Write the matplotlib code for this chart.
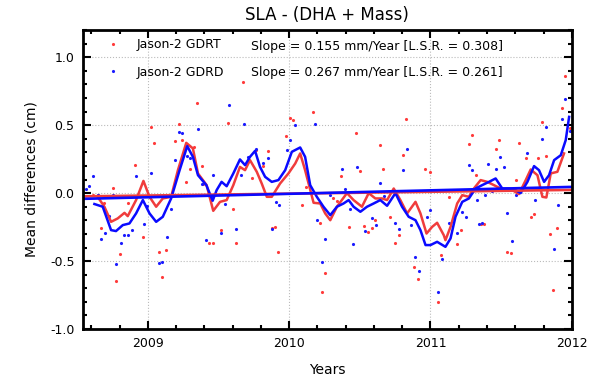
import matplotlib
matplotlib.use('Agg')
import matplotlib.pyplot as plt
from matplotlib.ticker import MultipleLocator
import numpy as np

# GDRT 散点 (年份, cm)
gdrt_t = [2008.610, 2008.645, 2008.669, 2008.693, 2008.752, 2008.775, 2008.806, 2008.858, 2008.912, 2008.969,
          2009.024, 2009.047, 2009.078, 2009.102, 2009.130, 2009.189, 2009.218, 2009.243, 2009.272, 2009.296,
          2009.324, 2009.350, 2009.390, 2009.381, 2009.435, 2009.463, 2009.515, 2009.570, 2009.600, 2009.624,
          2009.676, 2009.735, 2009.766, 2009.818, 2009.849, 2009.877, 2009.900, 2009.924, 2009.979, 2010.007,
          2010.030, 2010.090, 2010.120, 2010.172, 2010.220, 2010.231, 2010.255, 2010.310, 2010.338, 2010.367,
          2010.421, 2010.476, 2010.499, 2010.527, 2010.556, 2010.586, 2010.610, 2010.641, 2010.664, 2010.716,
          2010.752, 2010.775, 2010.804, 2010.829, 2010.881, 2010.912, 2010.964, 2010.995, 2011.052, 2011.076,
          2011.130, 2011.189, 2011.213, 2011.272, 2011.296, 2011.319, 2011.355, 2011.378, 2011.461, 2011.485,
          2011.544, 2011.572, 2011.603, 2011.627, 2011.679, 2011.709, 2011.733, 2011.764, 2011.792, 2011.816,
          2011.847, 2011.868, 2011.898, 2011.929, 2011.953, 2011.990]
gdrt_v = [-0.015, -0.015, -0.260, -0.076, 0.040, -0.645, -0.450, -0.070, 0.210, -0.320,
          0.490, 0.370, -0.430, -0.615, -0.420, 0.380, 0.505, 0.390, 0.083, 0.174,
          0.336, 0.660, 0.070, 0.199, -0.370, -0.365, -0.272, 0.517, -0.113, -0.365,
          0.820, 0.108, 0.316, 0.199, 0.311, -0.260, -0.247, -0.431, 0.419, 0.550,
          0.537, -0.088, 0.047, 0.598, -0.223, -0.725, -0.586, -0.039, -0.056, 0.125,
          -0.247, 0.439, 0.162, -0.243, -0.284, -0.260, -0.194, 0.353, 0.174, -0.179,
          -0.370, -0.309, 0.284, 0.542, -0.546, -0.635, 0.181, 0.157, -0.800, -0.456,
          -0.032, -0.375, -0.272, 0.358, 0.426, 0.132, -0.228, -0.228, 0.328, 0.390,
          -0.431, -0.439, 0.100, 0.370, 0.260, -0.179, -0.154, 0.255, 0.525, 0.272,
          -0.300, -0.713, -0.260, 0.623, 0.860, 0.476]

# GDRD 散点
gdrd_t = [2008.563, 2008.586, 2008.615, 2008.645, 2008.669, 2008.700, 2008.723, 2008.757, 2008.775, 2008.811,
          2008.835, 2008.863, 2008.889, 2008.917, 2008.972, 2008.995, 2009.024, 2009.078, 2009.102, 2009.135,
          2009.165, 2009.189, 2009.220, 2009.241, 2009.277, 2009.300, 2009.355, 2009.385, 2009.411, 2009.463,
          2009.518, 2009.546, 2009.575, 2009.624, 2009.657, 2009.681, 2009.712, 2009.766, 2009.818, 2009.853,
          2009.877, 2009.908, 2009.931, 2009.988, 2010.007, 2010.038, 2010.184, 2010.200, 2010.231, 2010.255,
          2010.286, 2010.373, 2010.397, 2010.428, 2010.449, 2010.480, 2010.534, 2010.586, 2010.615, 2010.645,
          2010.669, 2010.752, 2010.780, 2010.806, 2010.835, 2010.863, 2010.894, 2010.920, 2010.972, 2011.000,
          2011.052, 2011.083, 2011.130, 2011.189, 2011.220, 2011.248, 2011.272, 2011.296, 2011.326, 2011.343,
          2011.362, 2011.386, 2011.409, 2011.437, 2011.466, 2011.489, 2011.520, 2011.544, 2011.574, 2011.603,
          2011.686, 2011.740, 2011.792, 2011.816, 2011.875, 2011.905, 2011.934, 2011.953, 2011.986, 2011.998]
gdrd_v = [0.034, 0.050, 0.125, -0.015, -0.340, -0.296, -0.169, -0.015, -0.520, -0.370,
          -0.310, -0.310, -0.270, 0.125, -0.228, -0.095, 0.150, -0.517, -0.510, -0.320,
          -0.113, 0.242, 0.450, 0.440, 0.272, 0.262, 0.475, 0.066, -0.346, 0.132,
          -0.292, -0.081, 0.647, -0.267, 0.132, 0.507, 0.267, 0.328, 0.223, 0.255,
          -0.267, -0.064, -0.088, 0.321, 0.390, 0.500, 0.507, -0.194, -0.505, -0.338,
          -0.015, 0.174, 0.034, -0.120, -0.375, 0.194, -0.277, -0.186, -0.235, 0.076,
          -0.022, -0.216, -0.267, 0.169, 0.328, -0.235, -0.473, -0.571, -0.179, -0.125,
          -0.725, -0.488, -0.216, -0.292, -0.137, -0.174, 0.206, 0.169, -0.051, -0.230,
          -0.223, -0.015, 0.218, 0.015, 0.181, 0.267, 0.194, -0.145, -0.351, -0.015,
          0.292, -0.051, 0.395, 0.483, -0.414, -0.088, 0.542, 0.696, 0.458, 0.690]

# 平滑曲线
gdrt_smooth_t = [2008.645, 2008.693, 2008.740, 2008.787, 2008.835, 2008.858, 2008.917, 2008.969, 2009.012, 2009.059,
                 2009.106, 2009.165, 2009.213, 2009.272, 2009.319, 2009.355, 2009.416, 2009.463, 2009.511, 2009.558,
                 2009.605, 2009.652, 2009.688, 2009.723, 2009.771, 2009.806, 2009.842, 2009.877, 2009.936, 2009.995,
                 2010.043, 2010.078, 2010.113, 2010.173, 2010.220, 2010.255, 2010.291, 2010.338, 2010.409, 2010.456,
                 2010.515, 2010.563, 2010.610, 2010.657, 2010.693, 2010.740, 2010.787, 2010.835, 2010.894, 2010.929,
                 2010.972, 2011.012, 2011.047, 2011.094, 2011.106, 2011.142, 2011.189, 2011.225, 2011.272, 2011.307,
                 2011.355, 2011.402, 2011.449, 2011.496, 2011.544, 2011.579, 2011.626, 2011.674, 2011.709, 2011.757,
                 2011.792, 2011.820, 2011.851, 2011.898, 2011.945]
gdrt_smooth_v = [-0.027, -0.100, -0.211, -0.186, -0.145, -0.169, -0.051, 0.090, -0.027, -0.100,
                 -0.039, -0.027, 0.169, 0.370, 0.329, 0.145, 0.059, -0.130, -0.064, -0.051,
                 0.059, 0.193, 0.169, 0.243, 0.157, 0.071, -0.027, -0.027, 0.071, 0.145,
                 0.218, 0.292, 0.169, -0.071, -0.076, -0.149, -0.199, -0.100, 0.000, -0.051,
                 -0.100, 0.000, -0.039, -0.039, -0.051, 0.034, -0.051, -0.149, -0.064, -0.149,
                 -0.297, -0.248, -0.218, -0.309, -0.346, -0.248, -0.076, -0.015, -0.027, 0.034,
                 0.096, 0.083, 0.059, 0.034, 0.022, 0.022, -0.007, 0.096, 0.174, 0.132,
                 -0.027, -0.032, 0.145, 0.157, 0.292]

gdrd_smooth_t = [2008.622, 2008.681, 2008.740, 2008.775, 2008.823, 2008.870, 2008.917, 2008.965, 2009.012, 2009.059,
                 2009.106, 2009.165, 2009.225, 2009.279, 2009.319, 2009.355, 2009.414, 2009.459, 2009.487, 2009.522,
                 2009.558, 2009.605, 2009.652, 2009.688, 2009.723, 2009.759, 2009.794, 2009.830, 2009.877, 2009.924,
                 2009.972, 2010.019, 2010.078, 2010.113, 2010.149, 2010.196, 2010.243, 2010.291, 2010.338, 2010.385,
                 2010.421, 2010.456, 2010.504, 2010.551, 2010.598, 2010.645, 2010.693, 2010.752, 2010.799, 2010.846,
                 2010.894, 2010.929, 2010.965, 2011.000, 2011.047, 2011.106, 2011.142, 2011.177, 2011.225, 2011.272,
                 2011.319, 2011.366, 2011.414, 2011.461, 2011.508, 2011.555, 2011.603, 2011.638, 2011.686, 2011.733,
                 2011.768, 2011.804, 2011.839, 2011.875, 2011.922, 2011.957, 2011.981]
gdrd_smooth_v = [-0.080, -0.100, -0.272, -0.279, -0.235, -0.223, -0.149, -0.051, -0.149, -0.211,
                 -0.174, -0.039, 0.169, 0.346, 0.267, 0.132, 0.059, -0.056, 0.022, 0.083,
                 0.051, 0.145, 0.248, 0.206, 0.267, 0.311, 0.193, 0.120, 0.083, 0.096,
                 0.169, 0.304, 0.336, 0.267, 0.059, -0.027, -0.100, -0.162, -0.100, -0.076,
                 -0.051, -0.100, -0.137, -0.100, -0.076, -0.051, -0.093, 0.000, -0.100, -0.174,
                 -0.199, -0.272, -0.382, -0.382, -0.358, -0.395, -0.333, -0.174, -0.064, -0.039,
                 0.034, 0.059, 0.083, 0.108, 0.034, 0.034, 0.022, 0.000, 0.083, 0.199,
                 0.169, 0.083, 0.132, 0.243, 0.279, 0.390, 0.561]

# 线性趋势端点
trend_t = [2008.54, 2012.0]
gdrt_trend = [-0.024, 0.024]
gdrd_trend = [-0.042, 0.046]

labels = ['Jason-2 GDRT', 'Jason-2 GDRD']
slopes = ['Slope = 0.155 mm/Year [L.S.R. = 0.308]', 'Slope = 0.267 mm/Year [L.S.R. = 0.261]']

fig = plt.figure(figsize=(6, 3.8), dpi=100)
ax = fig.add_axes([0.138, 0.134, 0.815, 0.787])

p1, = ax.plot(gdrt_t, gdrt_v, '.', color='#ff3b3b', markersize=2.5, linestyle='none')
p2, = ax.plot(gdrd_t, gdrd_v, '.', color='#1a1aff', markersize=2.5, linestyle='none')
ax.plot(gdrt_smooth_t, gdrt_smooth_v, color='#f03c3c', linewidth=1.8)
ax.plot(gdrd_smooth_t, gdrd_smooth_v, color='#0a0aff', linewidth=1.8)
ax.plot(trend_t, gdrt_trend, color='#f03c3c', linewidth=1.9)
ax.plot(trend_t, gdrd_trend, color='#0a0aff', linewidth=1.9)

ax.set_xlim(2008.54, 2012.0)
ax.set_ylim(-1.0, 1.2)
ax.xaxis.set_major_locator(MultipleLocator(1))
ax.xaxis.set_minor_locator(MultipleLocator(0.2))
ax.yaxis.set_major_locator(MultipleLocator(0.5))
ax.yaxis.set_minor_locator(MultipleLocator(0.1))
ax.set_xticks([2009, 2010, 2011, 2012])
ax.set_xticklabels(['2009', '2010', '2011', '2012'])
ax.set_yticks([-1.0, -0.5, 0.0, 0.5, 1.0])
ax.set_yticklabels(['-1.0', '-0.5', '0.0', '0.5', '1.0'])
ax.tick_params(which='both', direction='in', top=True, right=True, labelsize=9, width=1.5)
ax.tick_params(which='major', length=6, pad=6)
ax.tick_params(which='minor', length=3)
ax.grid(True, which='major', linestyle=':', color='#bbbbbb', linewidth=0.8)
for s in ax.spines.values():
    s.set_linewidth(2)

ax.set_title('SLA - (DHA + Mass)', fontsize=12, pad=7)
ax.set_xlabel('Years', fontsize=10, labelpad=9)
ax.set_ylabel('Mean differences (cm)', fontsize=10, labelpad=8)

leg = ax.legend([p1, p2], labels, loc='upper left', frameon=False, fontsize=9,
                markerscale=1.0, handlelength=1.0, handletextpad=1.4,
                labelspacing=1.15, bbox_to_anchor=(0.025, 1.01))
for i, s in enumerate(slopes):
    ax.text(0.344, 0.945 - i * 0.087, s, transform=ax.transAxes, fontsize=9, va='center')

fig.savefig('out.png', dpi=100)
